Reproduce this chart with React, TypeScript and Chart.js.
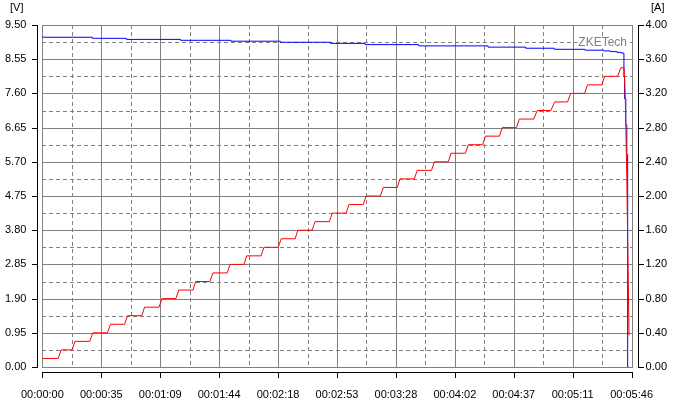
import React, { useEffect, useRef } from 'react';
import { Chart, registerables } from 'chart.js';

Chart.register(...registerables);

// ---- axis ticks ----
const xTickSeconds = [0, 34.6, 69.2, 103.8, 138.4, 173, 207.6, 242.2, 276.8, 311.4, 346];
const xTickLabels = ['00:00:00', '00:00:35', '00:01:09', '00:01:44', '00:02:18', '00:02:53', '00:03:28', '00:04:02', '00:04:37', '00:05:11', '00:05:46'];
const voltTicks = [0, 0.95, 1.9, 2.85, 3.8, 4.75, 5.7, 6.65, 7.6, 8.55, 9.5];
const voltTickLabels = ['0.00', '0.95', '1.90', '2.85', '3.80', '4.75', '5.70', '6.65', '7.60', '8.55', '9.50'];
const ampTicks = [0, 0.4, 0.8, 1.2, 1.6, 2.0, 2.4, 2.8, 3.2, 3.6, 4.0];
const ampTickLabels = ['0.00', '0.40', '0.80', '1.20', '1.60', '2.00', '2.40', '2.80', '3.20', '3.60', '4.00'];

// ---- voltage series (stepped, seconds / volts) ----
const voltTime = [0, 29.4, 49.3, 81.1, 110.7, 139.7, 169.2, 189.5, 221, 261.7, 283.8, 300.6, 318.6, 329.6, 333.5, 337.5, 340, 341.5, 341.9, 342.6, 343.2, 343.7, 344.2];
const voltValues = [9.19, 9.16, 9.13, 9.10, 9.075, 9.05, 9.02, 8.99, 8.955, 8.92, 8.885, 8.855, 8.825, 8.80, 8.78, 8.76, 8.74, 8.72, 8.06, 7.45, 6.72, 5.9, 0];

// ---- current series (staircase, seconds / amps) ----
const ampLevels = [0.1, 0.2, 0.3, 0.4, 0.5, 0.6, 0.7, 0.8, 0.9, 1.0, 1.1, 1.2, 1.3, 1.4, 1.5, 1.6, 1.7, 1.8, 1.9, 2.0, 2.1, 2.2, 2.3, 2.4, 2.5, 2.6, 2.7, 2.8, 2.9, 3.0, 3.1, 3.2, 3.3, 3.4, 3.5];
const ampHoldStart = [0, 11.0, 19.1, 29.6, 40.0, 50.0, 60.0, 70.2, 80.1, 90.0, 100.1, 110.2, 120.0, 130.1, 140.2, 150.0, 160.1, 170.2, 180.0, 190.1, 200.2, 210.0, 220.1, 230.2, 240.0, 250.1, 260.2, 270.0, 280.1, 290.6, 300.8, 310.2, 320.1, 330.2, 339.6];
const ampHoldEnd = [9.3, 17.4, 27.8, 38.2, 48.3, 58.4, 68.5, 78.4, 88.4, 98.4, 108.5, 118.4, 128.4, 138.5, 148.4, 158.4, 168.5, 178.4, 188.4, 198.5, 208.4, 218.4, 228.5, 238.4, 248.4, 258.5, 268.4, 278.4, 288.5, 298.6, 308.4, 318.4, 328.5, 337.8, 341.6];
const ampTailTime = [342.3, 343.2, 344.5];
const ampTailValues = [3.15, 2.2, 0.37];

const FONT = "'Liberation Sans', Arial, sans-serif";

const zkePlugin = {
  id: 'zkePlugin',
  beforeDatasetsDraw(chart: any) {
    const { ctx, chartArea: a, scales } = chart;
    const xs = scales.x;
    const ys = scales.y;
    const L = Math.round(a.left), R = Math.round(a.right), T = Math.round(a.top), B = Math.round(a.bottom);
    ctx.save();
    ctx.lineWidth = 1;
    ctx.strokeStyle = '#808080';
    // dashed minor grid
    ctx.setLineDash([4, 3]);
    ctx.beginPath();
    for (let i = 0; i < xTickSeconds.length - 1; i++) {
      const px = Math.round(xs.getPixelForValue((xTickSeconds[i] + xTickSeconds[i + 1]) / 2)) + 0.5;
      ctx.moveTo(px, T);
      ctx.lineTo(px, B);
    }
    for (let i = 0; i < voltTicks.length - 1; i++) {
      const py = Math.round(ys.getPixelForValue((voltTicks[i] + voltTicks[i + 1]) / 2)) + 0.5;
      ctx.moveTo(L, py);
      ctx.lineTo(R, py);
    }
    ctx.stroke();
    // solid major grid
    ctx.setLineDash([]);
    ctx.beginPath();
    for (const v of xTickSeconds) {
      const px = Math.round(xs.getPixelForValue(v)) + 0.5;
      ctx.moveTo(px, T);
      ctx.lineTo(px, B + 1);
    }
    for (const v of voltTicks) {
      const py = Math.round(ys.getPixelForValue(v)) + 0.5;
      ctx.moveTo(L, py);
      ctx.lineTo(R + 1, py);
    }
    ctx.stroke();
    // watermark
    const wy = Math.round(ys.getPixelForValue((voltTicks[9] + voltTicks[10]) / 2)) + 0.5;
    ctx.font = `12px ${FONT}`;
    const label = 'ZKETech';
    const w = ctx.measureText(label).width;
    const rx = R - 5;
    ctx.fillStyle = '#ffffff';
    ctx.fillRect(rx - w - 1, wy - 6, w + 2, 12);
    ctx.fillStyle = '#808080';
    ctx.textAlign = 'right';
    ctx.textBaseline = 'middle';
    ctx.fillText(label, rx, wy);
    ctx.restore();
  },
  afterDraw(chart: any) {
    const { ctx, chartArea: a, scales } = chart;
    const xs = scales.x;
    const ys = scales.y;
    const y1 = scales.y1;
    const L = Math.round(a.left), R = Math.round(a.right), T = Math.round(a.top), B = Math.round(a.bottom);
    ctx.save();
    ctx.lineWidth = 1;
    ctx.strokeStyle = '#000000';
    ctx.beginPath();
    // left axis
    const lx = L - 5 + 0.5;
    ctx.moveTo(lx, T);
    ctx.lineTo(lx, B + 1);
    for (const v of voltTicks) {
      const py = Math.round(ys.getPixelForValue(v)) + 0.5;
      ctx.moveTo(lx - 5.5, py);
      ctx.lineTo(lx + 0.5, py);
    }
    // right axis
    const rx = R + 6 + 0.5;
    ctx.moveTo(rx, T);
    ctx.lineTo(rx, B + 1);
    for (const v of ampTicks) {
      const py = Math.round(y1.getPixelForValue(v)) + 0.5;
      ctx.moveTo(rx - 0.5, py);
      ctx.lineTo(rx + 5.5, py);
    }
    // bottom axis
    const by = B + 5 + 0.5;
    ctx.moveTo(L, by);
    ctx.lineTo(R + 1, by);
    for (const v of xTickSeconds) {
      const px = Math.round(xs.getPixelForValue(v)) + 0.5;
      ctx.moveTo(px, by - 0.5);
      ctx.lineTo(px, by + 5.5);
    }
    ctx.stroke();
    // unit labels
    ctx.fillStyle = '#000000';
    ctx.font = `11px ${FONT}`;
    ctx.textBaseline = 'top';
    ctx.textAlign = 'left';
    ctx.fillText('[V]', 10, 2);
    ctx.fillText('[A]', 651, 2);
    ctx.restore();
  },
};

export default function App() {
  const canvasRef = useRef<HTMLCanvasElement | null>(null);

  useEffect(() => {
    if (!canvasRef.current) return;
    const voltData = voltTime.map((t, i) => ({ x: t, y: voltValues[i] }));
    const ampData: { x: number; y: number }[] = [];
    ampLevels.forEach((lv, i) => {
      ampData.push({ x: ampHoldStart[i], y: lv });
      ampData.push({ x: ampHoldEnd[i], y: lv });
    });
    ampTailTime.forEach((t, i) => ampData.push({ x: t, y: ampTailValues[i] }));

    const tickFont = { family: FONT, size: 11 };

    const chart = new Chart(canvasRef.current, {
      type: 'line',
      data: {
        datasets: [
          {
            label: 'Current',
            data: ampData,
            yAxisID: 'y1',
            borderColor: '#ff0000',
            borderWidth: 1,
            pointRadius: 0,
            tension: 0,
            fill: false,
            order: 0,
          },
          {
            label: 'Voltage',
            data: voltData,
            yAxisID: 'y',
            borderColor: '#0000ff',
            borderWidth: 1,
            pointRadius: 0,
            tension: 0,
            stepped: 'after',
            fill: false,
            order: 1,
          },
        ],
      },
      options: {
        animation: false,
        responsive: false,
        devicePixelRatio: 1,
        parsing: false,
        normalized: true,
        layout: { padding: { top: 25, left: 0, right: 0, bottom: 0 } },
        plugins: { legend: { display: false }, tooltip: { enabled: false } },
        scales: {
          x: {
            type: 'linear',
            min: 0,
            max: 346,
            grid: { display: false, drawTicks: false },
            border: { display: false },
            afterBuildTicks: (s: any) => {
              s.ticks = xTickSeconds.map((v) => ({ value: v }));
            },
            afterFit: (s: any) => {
              s.height = 34;
            },
            ticks: {
              autoSkip: false,
              maxRotation: 0,
              padding: 21,
              color: '#000000',
              font: tickFont,
              callback: (_v: any, i: number) => xTickLabels[i],
            },
          },
          y: {
            type: 'linear',
            position: 'left',
            min: 0,
            max: 9.5,
            grid: { display: false, drawTicks: false },
            border: { display: false },
            afterBuildTicks: (s: any) => {
              s.ticks = voltTicks.map((v) => ({ value: v }));
            },
            afterFit: (s: any) => {
              s.width = 38;
            },
            ticks: {
              padding: 16,
              color: '#000000',
              font: tickFont,
              callback: (_v: any, i: number) => voltTickLabels[i],
            },
          },
          y1: {
            type: 'linear',
            position: 'right',
            min: 0,
            max: 4,
            grid: { display: false, drawTicks: false },
            border: { display: false },
            afterBuildTicks: (s: any) => {
              s.ticks = ampTicks.map((v) => ({ value: v }));
            },
            afterFit: (s: any) => {
              s.width = 39;
            },
            ticks: {
              padding: 14,
              color: '#000000',
              font: tickFont,
              callback: (_v: any, i: number) => ampTickLabels[i],
            },
          },
        },
      },
      plugins: [zkePlugin],
    } as any);

    return () => {
      chart.destroy();
    };
  }, []);

  return (
    <div style={{ position: 'absolute', left: 0, top: 0, width: 674, height: 401, background: '#ffffff' }}>
      <canvas ref={canvasRef} width={674} height={401} style={{ display: 'block', width: 674, height: 401 }} />
    </div>
  );
}
